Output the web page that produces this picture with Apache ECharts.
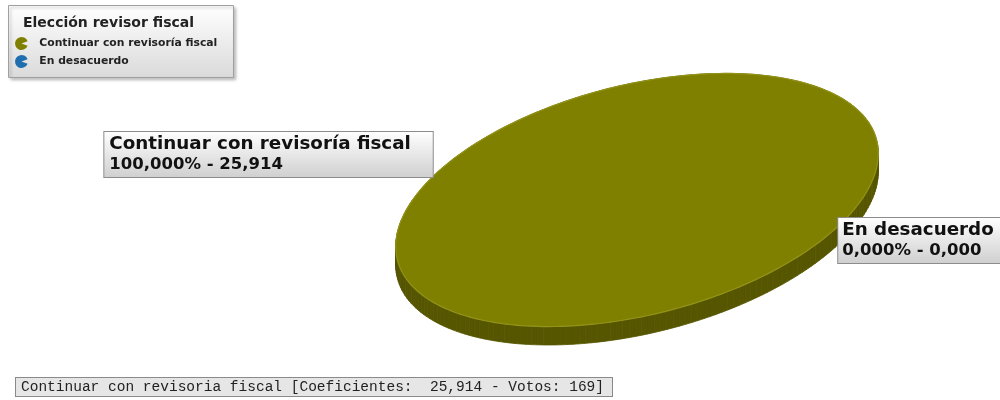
<!DOCTYPE html>
<html>
<head>
<meta charset="utf-8">
<script src="https://cdn.jsdelivr.net/npm/echarts@6/dist/echarts.min.js"></script>
<style>
  html, body { margin: 0; padding: 0; background: #ffffff; }
  #chart { width: 1000px; height: 400px; }
</style>
</head>
<body>
<div id="chart"></div>
<script>
// ---- data ----
const categories = ['Continuar con revisoría fiscal', 'En desacuerdo'];
const coeficientes = [25.914, 0];
const votos = [169, 0];
const legendTitle = 'Elección revisor fiscal';
const footerName = 'Continuar con revisoria fiscal';
const sliceColors = ['#808000', '#1f6fb0'];
const sideColors = ['#565600', '#144a78'];
const rimColors = ['#929218', '#3a88c8'];

// ---- helpers ----
const TILT = 14 * Math.PI / 180;
const START = -43 * Math.PI / 180;
const total = coeficientes.reduce((s, v) => s + v, 0);
function fmt(v) { return v.toFixed(3).replace('.', ','); }
function geom(W, H) {
  return { cx: W * 0.637, cy: H * 0.5, a: W * 0.247, b: H * 0.2875, d: H * 0.046 };
}
function pt(g, t) {
  const x = g.a * Math.cos(t), y = g.b * Math.sin(t);
  return [g.cx + x * Math.cos(TILT) - y * Math.sin(TILT),
          g.cy - (x * Math.sin(TILT) + y * Math.cos(TILT))];
}
const labelBg = new echarts.graphic.LinearGradient(0, 0, 0, 1, [
  { offset: 0, color: '#ffffff' }, { offset: 1, color: '#cfcfcf' }
]);

function makeRender(i) {
  return function (params, api) {
    const g = geom(api.getWidth(), api.getHeight());
    let before = 0;
    for (let k = 0; k < i; k++) before += coeficientes[k];
    const v = api.value(0);
    const t1 = START + before / total * 2 * Math.PI;
    const t2 = t1 + v / total * 2 * Math.PI;
    const children = [];
    if (v > 0) {
      const n = Math.max(2, Math.ceil((t2 - t1) / (2 * Math.PI) * 240));
      const top = [];
      for (let j = 0; j <= n; j++) top.push(pt(g, t1 + (t2 - t1) * j / n));
      for (let j = 0; j < n; j++) {
        const q = [top[j], top[j + 1], [top[j + 1][0], top[j + 1][1] + g.d], [top[j][0], top[j][1] + g.d]];
        children.push({ type: 'polygon', shape: { points: q },
          style: { fill: sideColors[i], stroke: sideColors[i], lineWidth: 0.8 }, z2: 1 });
      }
      const full = v >= total;
      if (!full) {
        [top[0], top[n]].forEach(function (p) {
          const q = [[g.cx, g.cy], p, [p[0], p[1] + g.d], [g.cx, g.cy + g.d]];
          children.push({ type: 'polygon', shape: { points: q },
            style: { fill: sideColors[i], stroke: sideColors[i], lineWidth: 0.8 }, z2: 2 });
        });
      }
      const poly = full ? top : [[g.cx, g.cy]].concat(top);
      children.push({ type: 'polygon', shape: { points: poly },
        style: { fill: sliceColors[i], stroke: rimColors[i], lineWidth: 1.2 }, z2: 10 });
    }
    // label
    const mid = (t1 + t2) / 2;
    const an = pt(g, mid);
    const left = an[0] < g.cx;
    const pct = total ? v / total * 100 : 0;
    children.push({
      type: 'text',
      x: left ? an[0] - 10 : an[0] + 7,
      y: left ? an[1] - 13 : an[1] + 8,
      style: {
        text: '{n|' + categories[i] + '}\n{p|' + fmt(pct) + '% - ' + fmt(v) + '}',
        align: left ? 'right' : 'left', textAlign: left ? 'right' : 'left',
        verticalAlign: 'middle', textVerticalAlign: 'middle',
        backgroundColor: labelBg, borderColor: '#8c8c8c', borderWidth: 1,
        padding: left ? [2, 22, 3, 5] : [2, 8, 3, 4],
        rich: {
          n: { font: 'bold 18.3px "DejaVu Sans"', fill: '#111', lineHeight: 21, align: 'left' },
          p: { font: 'bold 16.5px "DejaVu Sans"', fill: '#111', lineHeight: 19, align: 'left' }
        }
      },
      z2: 30
    });
    return { type: 'group', children: children };
  };
}

const chart = echarts.init(document.getElementById('chart'));
chart.setOption({
  animation: false,
  backgroundColor: '#ffffff',
  title: {
    text: legendTitle, left: 18, top: 11,
    textStyle: { fontSize: 14, fontWeight: 'bold', fontFamily: 'DejaVu Sans', color: '#222' }
  },
  legend: {
    orient: 'vertical', left: 15, top: 37, padding: 0,
    itemWidth: 14, itemHeight: 13, itemGap: 5,
    icon: 'path://M10,10 L19.4,6.6 A10,10 0 1,0 19.4,13.4 Z',
    textStyle: { fontSize: 10.8, fontWeight: 'bold', fontFamily: 'DejaVu Sans', color: '#222',
      padding: [0, 0, 0, 6] },
    data: categories
  },
  graphic: [
    {
      type: 'rect', left: 8, top: 5, z: 0,
      shape: { width: 225, height: 72 },
      style: {
        fill: new echarts.graphic.LinearGradient(0, 0, 0, 1, [
          { offset: 0, color: '#ffffff' }, { offset: 1, color: '#dadada' }
        ]),
        stroke: '#a0a0a0', lineWidth: 1,
        shadowBlur: 3, shadowOffsetX: 2, shadowOffsetY: 2, shadowColor: 'rgba(0,0,0,0.25)'
      }
    },
    {
      type: 'text', left: 15, top: 377, z: 5,
      style: {
        text: footerName + ' [Coeficientes:  ' + fmt(coeficientes[0]) + ' - Votos: ' + votos[0] + ']',
        font: '14.5px "Liberation Mono"', fill: '#222',
        backgroundColor: '#e6e6e6', borderColor: '#8a8a8a', borderWidth: 1,
        padding: [2, 8, 1, 5]
      }
    }
  ],
  series: categories.map(function (name, i) {
    return {
      type: 'custom', name: name, coordinateSystem: 'none',
      itemStyle: { color: sliceColors[i] },
      data: [coeficientes[i]],
      renderItem: makeRender(i)
    };
  })
});
</script>
</body>
</html>
